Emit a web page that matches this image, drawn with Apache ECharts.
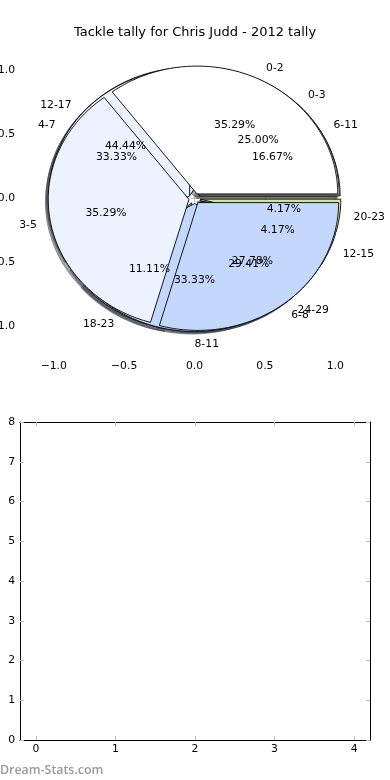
<!DOCTYPE html>
<html><head><meta charset="utf-8">
<script src="https://cdn.jsdelivr.net/npm/echarts@6/dist/echarts.min.js"></script>
<style>html,body{margin:0;padding:0;background:#fff}#c{width:390px;height:780px}</style>
</head><body><div id="c"></div>
<script>
// ---- data ----
const pie1Labels = ['0-2', '3-5', '6-8'];
const pie1Values = [6, 6, 5];
const pie2Labels = ['0-3', '4-7', '8-11', '12-15', '20-23'];
const pie2Values = [6, 8, 8, 1, 1];
const pie3Labels = ['6-11', '12-17', '18-23', '24-29'];
const pie3Values = [3, 8, 2, 5];
const pieTicks = [-1.0, -0.5, 0.0, 0.5, 1.0];
const emptyXTicks = [0, 1, 2, 3, 4];
const emptyYTicks = [0, 1, 2, 3, 4, 5, 6, 7, 8];
const sliceColors = ['#FFFFFF', '#ECF2FF', '#C4D8FE', '#A8C4F8', '#CFE59C'];

const pies = [
  { labels: pie1Labels, values: pie1Values },
  { labels: pie2Labels, values: pie2Values },
  { labels: pie3Labels, values: pie3Values }
];
const EXPLODE = 0.04;
const FONT = '"DejaVu Sans", Verdana, sans-serif';

function sliceGeom(p, i) {
  const vals = pies[p].values;
  const total = vals.reduce((a, b) => a + b, 0);
  let s = 0; for (let k = 0; k < i; k++) s += vals[k];
  const t1 = s / total * 360, t2 = (s + vals[i]) / total * 360;
  const tm = (t1 + t2) / 2 * Math.PI / 180;
  return { t1, t2, tm, ox: EXPLODE * Math.cos(tm), oy: EXPLODE * Math.sin(tm), pct: vals[i] / total * 100 };
}
function wedgePoints(api, g, dx, dy) {
  const pts = [api.coord([g.ox + dx, g.oy + dy])];
  const n = Math.max(2, Math.ceil(g.t2 - g.t1));
  for (let k = 0; k <= n; k++) {
    const t = (g.t1 + (g.t2 - g.t1) * k / n) * Math.PI / 180;
    pts.push(api.coord([g.ox + dx + Math.cos(t), g.oy + dy + Math.sin(t)]));
  }
  return pts;
}
function shade(hex) {
  const r = parseInt(hex.slice(1, 3), 16), g = parseInt(hex.slice(3, 5), 16), b = parseInt(hex.slice(5, 7), 16);
  return 'rgba(' + Math.round(r * 0.3) + ',' + Math.round(g * 0.3) + ',' + Math.round(b * 0.3) + ',0.5)';
}
function pieData(p) { return pies[p].values.map((v, i) => [p, i]); }
const allSlices = [].concat(pieData(2), pieData(1), pieData(0));

function wedgeSeries(p, z) {
  return {
    type: 'custom', xAxisIndex: 0, yAxisIndex: 0, z: z, silent: true,
    encode: { x: -1, y: -1 },
    data: pieData(p),
    renderItem: function (params, api) {
      const pi = api.value(0), i = api.value(1);
      const g = sliceGeom(pi, i);
      return {
        type: 'polygon', shape: { points: wedgePoints(api, g, 0, 0) },
        style: { fill: sliceColors[i], stroke: '#000', lineWidth: 0.9 }
      };
    }
  };
}
const fmt1 = v => v.toFixed(1).replace('-', '\u2212');
const tickStyle = { inside: true, length: 4, lineStyle: { color: '#bbbbbb', width: 1 } };
const labelStyle = { color: '#000', fontSize: 10.8, fontFamily: FONT };

const chart = echarts.init(document.getElementById('c'), null, { renderer: 'canvas' });
chart.setOption({
  animation: false,
  backgroundColor: '#fff',
  title: { text: 'Tackle tally for Chris Judd - 2012 tally', left: 'center', top: 21,
    textStyle: { fontSize: 13, fontWeight: 'normal', fontFamily: FONT, color: '#000' } },
  graphic: [{ type: 'text', left: 0, top: 764, silent: true,
    style: { text: 'Dream-Stats.com', fill: '#9a9a9a', font: '600 12.4px "Open Sans", sans-serif' } }],
  grid: [
    { left: 20, right: 21, top: 40, height: 317, outerBoundsMode: 'none', containLabel: false },
    { left: 20, right: 20, top: 422, height: 318, outerBoundsMode: 'none', containLabel: false }
  ],
  xAxis: [
    { gridIndex: 0, type: 'value', min: -1.24, max: 1.24, position: 'bottom',
      axisLine: { show: false }, splitLine: { show: false },
      axisTick: Object.assign({ customValues: pieTicks }, tickStyle),
      axisLabel: Object.assign({ customValues: pieTicks, formatter: fmt1, margin: 4 }, labelStyle) },
    { gridIndex: 0, type: 'value', min: -1.24, max: 1.24, position: 'top',
      axisLine: { show: false }, splitLine: { show: false },
      axisTick: Object.assign({ customValues: pieTicks }, tickStyle),
      axisLabel: { show: false } },
    { gridIndex: 1, type: 'value', min: -0.2, max: 4.2, position: 'bottom',
      axisLine: { show: true, onZero: false, lineStyle: { color: '#000', width: 1 } }, splitLine: { show: false },
      axisTick: Object.assign({ customValues: emptyXTicks }, tickStyle),
      axisLabel: Object.assign({ customValues: emptyXTicks, margin: 4 }, labelStyle) },
    { gridIndex: 1, type: 'value', min: -0.2, max: 4.2, position: 'top',
      axisLine: { show: true, onZero: false, lineStyle: { color: '#000', width: 1 } }, splitLine: { show: false },
      axisTick: Object.assign({ customValues: emptyXTicks }, tickStyle),
      axisLabel: { show: false } }
  ],
  yAxis: [
    { gridIndex: 0, type: 'value', min: -1.24, max: 1.24, position: 'left',
      axisLine: { show: false }, splitLine: { show: false },
      axisTick: Object.assign({ customValues: pieTicks }, tickStyle),
      axisLabel: Object.assign({ customValues: pieTicks, formatter: fmt1, margin: 5 }, labelStyle) },
    { gridIndex: 0, type: 'value', min: -1.24, max: 1.24, position: 'right',
      axisLine: { show: false }, splitLine: { show: false },
      axisTick: Object.assign({ customValues: pieTicks }, tickStyle),
      axisLabel: { show: false } },
    { gridIndex: 1, type: 'value', min: 0, max: 8, interval: 1, position: 'left',
      axisLine: { show: true, onZero: false, lineStyle: { color: '#000', width: 1 } }, splitLine: { show: false },
      axisTick: Object.assign({ customValues: emptyYTicks }, tickStyle),
      axisLabel: Object.assign({ customValues: emptyYTicks, margin: 5 }, labelStyle) },
    { gridIndex: 1, type: 'value', min: 0, max: 8, interval: 1, position: 'right',
      axisLine: { show: true, onZero: false, lineStyle: { color: '#000', width: 1 } }, splitLine: { show: false },
      axisTick: Object.assign({ customValues: emptyYTicks }, tickStyle),
      axisLabel: { show: false } }
  ],
  series: [
    { // shadows (beneath every wedge)
      type: 'custom', xAxisIndex: 0, yAxisIndex: 0, z: 2, silent: true,
      encode: { x: -1, y: -1 },
      data: allSlices,
      renderItem: function (params, api) {
        const p = api.value(0), i = api.value(1);
        const g = sliceGeom(p, i);
        const c = shade(sliceColors[i]);
        return { type: 'polygon', shape: { points: wedgePoints(api, g, -0.02, -0.02) },
          style: { fill: c, stroke: c, lineWidth: 1 } };
      }
    },
    wedgeSeries(2, 3),
    wedgeSeries(1, 4),
    wedgeSeries(0, 5),
    { // labels and percentages
      type: 'custom', xAxisIndex: 0, yAxisIndex: 0, z: 10, silent: true,
      encode: { x: -1, y: -1 },
      data: allSlices,
      renderItem: function (params, api) {
        const p = api.value(0), i = api.value(1);
        const g = sliceGeom(p, i);
        const c = Math.cos(g.tm), s = Math.sin(g.tm);
        const lp = api.coord([g.ox + 1.1 * c, g.oy + 1.1 * s]);
        const pp = api.coord([g.ox + 0.6 * c, g.oy + 0.6 * s]);
        const al = (g.ox + 1.1 * c) > -1e-9 ? 'left' : 'right';
        return { type: 'group', children: [
          { type: 'text', x: lp[0], y: lp[1],
            style: { text: pies[p].labels[i], fill: '#000', font: '10.8px ' + FONT,
              align: al, textAlign: al, verticalAlign: 'middle', textVerticalAlign: 'middle' } },
          { type: 'text', x: pp[0], y: pp[1],
            style: { text: g.pct.toFixed(2) + '%', fill: '#000', font: '10.8px ' + FONT,
              align: 'center', textAlign: 'center', verticalAlign: 'middle', textVerticalAlign: 'middle' } }
        ] };
      }
    },
    { type: 'line', xAxisIndex: 2, yAxisIndex: 2, data: [], silent: true }
  ]
});
</script>
</body></html>
